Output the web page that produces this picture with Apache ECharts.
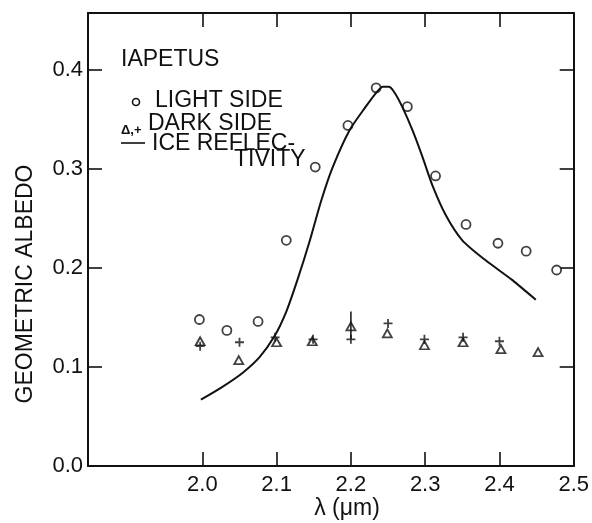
<!DOCTYPE html>
<html>
<head>
<meta charset="utf-8">
<script src="https://cdn.jsdelivr.net/npm/echarts@6/dist/echarts.min.js"></script>
<style>
  html, body { margin: 0; padding: 0; background: #fff; }
  #chart { width: 592px; height: 523px; }
</style>
</head>
<body>
<div id="chart"></div>
<script>
const xTicks = [2.0, 2.1, 2.2, 2.3, 2.4, 2.5];
const yTicks = [0.0, 0.1, 0.2, 0.3, 0.4];

const lightSide = [
  [1.996, 0.148], [2.033, 0.137], [2.075, 0.146], [2.113, 0.228], [2.152, 0.302],
  [2.196, 0.344], [2.234, 0.382], [2.276, 0.363], [2.314, 0.293], [2.355, 0.244],
  [2.398, 0.225], [2.436, 0.217], [2.477, 0.198]
];
const darkTriangle = [
  [1.997, 0.126], [2.049, 0.107], [2.100, 0.125], [2.148, 0.126], [2.200, 0.141],
  [2.249, 0.134], [2.299, 0.122], [2.351, 0.125], [2.402, 0.118], [2.452, 0.115]
];
const darkPlus = [
  [1.997, 0.121], [2.050, 0.125], [2.098, 0.130], [2.149, 0.128], [2.200, 0.128],
  [2.250, 0.144], [2.299, 0.128], [2.351, 0.130], [2.400, 0.126]
];
const errorBar = [[2.2, 0.156], [2.2, 0.128]];
const iceReflectivity = [
  [1.998, 0.067], [2.027, 0.080], [2.054, 0.094], [2.077, 0.110], [2.097, 0.131],
  [2.113, 0.156], [2.128, 0.188], [2.144, 0.226], [2.160, 0.268], [2.175, 0.301],
  [2.198, 0.339], [2.220, 0.363], [2.234, 0.377], [2.243, 0.383], [2.251, 0.383],
  [2.258, 0.378], [2.269, 0.363], [2.283, 0.339], [2.296, 0.313], [2.310, 0.283],
  [2.328, 0.253], [2.350, 0.228], [2.381, 0.208], [2.417, 0.188], [2.449, 0.168]
];

const font = 'Liberation Sans';
const ink = '#111';
const xMin = 1.846, xMax = 2.5, yMin = 0, yMax = 0.4576;

function xAxis(position, showLabels) {
  return {
    type: 'value', position, min: xMin, max: xMax,
    splitLine: { show: false },
    axisLine: { show: true, onZero: false, lineStyle: { color: ink, width: 2 } },
    axisTick: { show: true, inside: true, length: 14, customValues: xTicks.slice(0, 5), lineStyle: { color: ink, width: 1.6 } },
    axisLabel: {
      show: showLabels, customValues: xTicks, margin: 8,
      color: ink, fontFamily: font, fontSize: 22,
      formatter: (v) => v.toFixed(1)
    }
  };
}

function yAxis(position, showLabels) {
  return {
    type: 'value', position, min: yMin, max: yMax,
    splitLine: { show: false },
    axisLine: { show: true, onZero: false, lineStyle: { color: ink, width: 2 } },
    axisTick: { show: true, inside: true, length: 14, customValues: yTicks.slice(1), lineStyle: { color: ink, width: 1.6 } },
    axisLabel: {
      show: showLabels, customValues: yTicks, margin: 5,
      color: ink, fontFamily: font, fontSize: 22,
      formatter: (v) => v.toFixed(1)
    }
  };
}

const chart = echarts.init(document.getElementById('chart'));
chart.setOption({
  backgroundColor: '#fff',
  animation: false,
  grid: { left: 88, right: 17, top: 13, bottom: 57 },
  xAxis: [xAxis('bottom', true), xAxis('top', false)],
  yAxis: [yAxis('left', true), yAxis('right', false)],
  series: [
    {
      name: 'ICE REFLECTIVITY', type: 'line', data: iceReflectivity,
      smooth: 0.25, showSymbol: false, lineStyle: { color: ink, width: 2 }
    },
    {
      name: 'error', type: 'line', data: errorBar,
      showSymbol: false, lineStyle: { color: ink, width: 1.5 }
    },
    {
      name: 'LIGHT SIDE', type: 'scatter', data: lightSide,
      symbol: 'circle', symbolSize: 9,
      itemStyle: { color: '#fff', borderColor: ink, borderWidth: 1.8 }
    },
    {
      name: 'DARK SIDE triangle', type: 'scatter', data: darkTriangle,
      symbol: 'triangle', symbolSize: [9, 8],
      itemStyle: { color: '#fff', borderColor: ink, borderWidth: 1.8 }
    },
    {
      name: 'DARK SIDE plus', type: 'scatter', data: darkPlus,
      symbol: 'path://M4,0h2v4h4v2h-4v4h-2v-4h-4v-2h4z', symbolSize: 9,
      itemStyle: { color: ink }
    }
  ],
  graphic: [
    { type: 'text', x: 121, y: 60, style: { text: 'IAPETUS', fontFamily: font, fontSize: 23, fill: ink, textVerticalAlign: 'middle' } },
    { type: 'circle', shape: { cx: 136, cy: 102, r: 3.5 }, style: { fill: '#fff', stroke: ink, lineWidth: 1.6 } },
    { type: 'text', x: 155, y: 101, style: { text: 'LIGHT SIDE', fontFamily: font, fontSize: 23, fill: ink, textVerticalAlign: 'middle' } },
    { type: 'text', x: 121, y: 130, style: { text: 'Δ,+', fontFamily: font, fontSize: 13, fontWeight: 'bold', fill: ink, textVerticalAlign: 'middle' } },
    { type: 'text', x: 148, y: 124, style: { text: 'DARK SIDE', fontFamily: font, fontSize: 23, fill: ink, textVerticalAlign: 'middle' } },
    { type: 'line', shape: { x1: 121, y1: 143, x2: 145, y2: 143 }, style: { stroke: ink, lineWidth: 1.6 } },
    { type: 'text', x: 152, y: 144, style: { text: 'ICE REFLEC-', fontFamily: font, fontSize: 23, fill: ink, textVerticalAlign: 'middle' } },
    { type: 'text', x: 234, y: 160, style: { text: 'TIVITY', fontFamily: font, fontSize: 23, fill: ink, textVerticalAlign: 'middle' } },
    { type: 'text', x: 26, y: 284, rotation: Math.PI / 2, style: { text: 'GEOMETRIC ALBEDO', fontFamily: font, fontSize: 23, fill: ink, textAlign: 'center', textVerticalAlign: 'middle' } },
    { type: 'text', x: 347, y: 509, style: { text: 'λ (μm)', fontFamily: font, fontSize: 23, fill: ink, textAlign: 'center', textVerticalAlign: 'middle' } }
  ]
});
</script>
</body>
</html>
